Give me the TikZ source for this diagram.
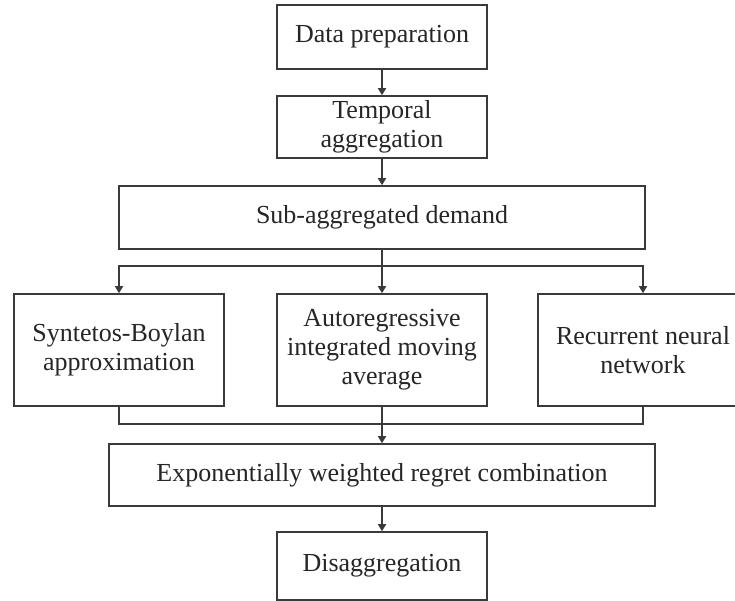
\documentclass[tikz,border=0pt]{standalone}
\usepackage{fontspec}
\setmainfont{Liberation Serif}
\usetikzlibrary{arrows.meta}
\definecolor{linegray}{HTML}{3A3A3A}
\definecolor{textgray}{HTML}{262626}
\begin{document}
\begin{tikzpicture}[x=1pt,y=-1pt,
  box/.style={draw=linegray, line width=1.6pt, rectangle, inner sep=0pt,
    align=center, text=textgray, font=\fontsize{26}{29}\selectfont},
  link/.style={draw=linegray, line width=1.6pt},
  arr/.style={link, -{Triangle[length=7pt,width=8pt]}}]
\useasboundingbox (0,0) rectangle (735,600);
\clip (0,0) rectangle (735,600);
\fill[white] (0,0) rectangle (735,600);

% stages of the pipeline
\node[box, minimum width=210pt, minimum height=64pt] (prep) at (382,37) {Data preparation};
\node[box, minimum width=210pt, minimum height=62pt] (temp) at (382,127) {Temporal\\aggregation};
\node[box, minimum width=526pt, minimum height=63pt] (sub) at (382,217.5) {Sub-aggregated demand};
\node[box, minimum width=210pt, minimum height=112pt] (sb) at (119,350) {Syntetos-Boylan\\approximation};
\node[box, minimum width=210pt, minimum height=112pt] (arima) at (382,350) {Autoregressive\\integrated moving\\average};
\node[box, minimum width=210pt, minimum height=112pt] (rnn) at (643,350) {Recurrent neural\\network};
\node[box, minimum width=546pt, minimum height=62pt] (ewrc) at (382,475) {Exponentially weighted regret combination};
\node[box, minimum width=210pt, minimum height=68pt] (dis) at (382,566) {Disaggregation};

% split and join points
\coordinate (split) at (382,266);
\coordinate (join) at (382,424);

\draw[arr] (prep) -- (temp);
\draw[arr] (temp) -- (sub);
\draw[link] (sub.south) -- (split);
\draw[arr] (split) -| (sb.north);
\draw[arr] (split) -| (rnn.north);
\draw[arr] (split) -- (arima.north);
\draw[link] (sb.south) |- (join);
\draw[link] (rnn.south) |- (join);
\draw[link] (arima.south) -- (join);
\draw[arr] (join) -- (ewrc.north);
\draw[arr] (ewrc) -- (dis);
\end{tikzpicture}
\end{document}
